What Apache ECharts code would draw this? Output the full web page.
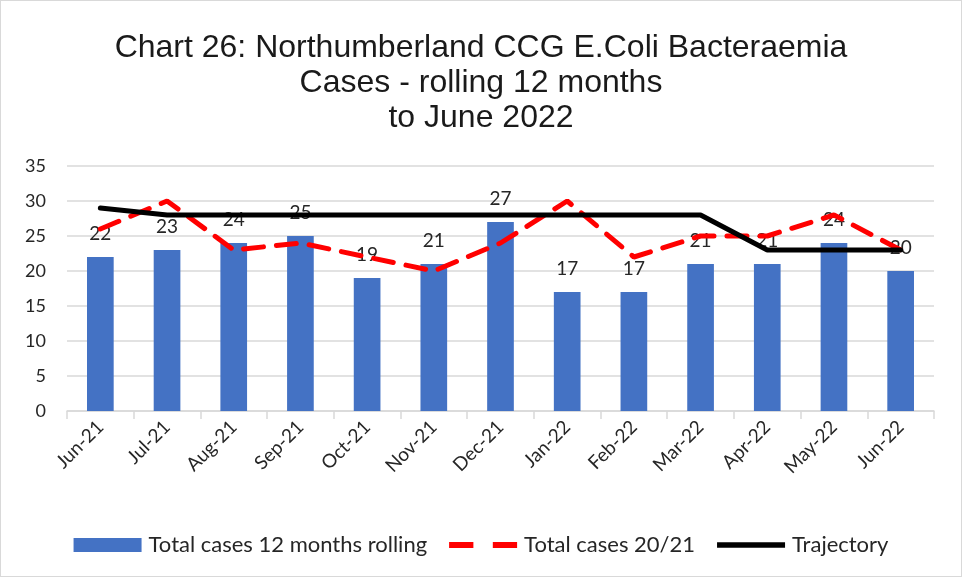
<!DOCTYPE html>
<html>
<head>
<meta charset="utf-8">
<script src="https://cdn.jsdelivr.net/npm/echarts@6/dist/echarts.min.js"></script>
<style>
  html, body { margin: 0; padding: 0; background: #fff; }
  #chart { width: 960px; height: 575px; border: 1px solid #d9d9d9; }
</style>
</head>
<body>
<div id="chart"></div>
<script>
// Monthly categories (rolling 12 months to each month end)
const months = ['Jun-21', 'Jul-21', 'Aug-21', 'Sep-21', 'Oct-21', 'Nov-21', 'Dec-21',
                'Jan-22', 'Feb-22', 'Mar-22', 'Apr-22', 'May-22', 'Jun-22'];
// Total cases, 12 months rolling
const rollingCases = [22, 23, 24, 25, 19, 21, 27, 17, 17, 21, 21, 24, 20];
// Total cases in the 2020/21 comparison period
const cases2021 = [26, 30, 23, 24, 22, 20, 24, 30, 22, 25, 25, 28, 23];
// Trajectory
const trajectory = [29, 28, 28, 28, 28, 28, 28, 28, 28, 28, 23, 23, 23];

const yTicks = { min: 0, max: 35, interval: 5 };

// Legend glyphs: two short dashes for the comparison line, a solid bar for the trajectory
const dashIcon = 'path://M0,0 H25 V6 H0 Z M45,0 H70 V6 H45 Z';
const solidIcon = 'path://M0,0 H73 V6 H0 Z';

const chart = echarts.init(document.getElementById('chart'));
chart.setOption({
  animation: false,
  backgroundColor: '#ffffff',
  title: {
    text: 'Chart 26: Northumberland CCG E.Coli Bacteraemia\nCases - rolling 12 months\nto June 2022',
    left: 'center',
    top: 25,
    textStyle: {
      fontFamily: 'Liberation Sans',
      fontSize: 32,
      fontWeight: 'normal',
      lineHeight: 35,
      color: '#1a1a1a'
    }
  },
  grid: { left: 66, right: 27, top: 165, bottom: 165, containLabel: false },
  legend: {
    top: 528,
    left: 'center',
    itemGap: 22,
    itemWidth: 68,
    itemHeight: 14,
    symbolKeepAspect: true,
    textStyle: { fontFamily: 'Lato', fontSize: 22, color: '#262626', padding: [0, 0, 0, 2] },
    data: [
      { name: 'Total cases 12 months rolling', icon: 'rect' },
      { name: 'Total cases 20/21', icon: dashIcon },
      { name: 'Trajectory', icon: solidIcon }
    ]
  },
  xAxis: {
    type: 'category',
    data: months,
    boundaryGap: true,
    axisLine: { lineStyle: { color: '#d9d9d9', width: 1.5 } },
    axisTick: { show: true, length: 8, lineStyle: { color: '#d9d9d9', width: 1.5 } },
    axisLabel: {
      rotate: 45,
      margin: 13,
      fontFamily: 'Lato',
      fontSize: 19,
      color: '#262626'
    }
  },
  yAxis: {
    type: 'value',
    min: yTicks.min,
    max: yTicks.max,
    interval: yTicks.interval,
    axisLine: { show: false },
    axisTick: { show: false },
    axisLabel: { margin: 21, fontFamily: 'Lato', fontSize: 18, color: '#262626' },
    splitLine: { lineStyle: { color: '#d9d9d9', width: 1.5 } }
  },
  series: [
    {
      name: 'Total cases 12 months rolling',
      type: 'bar',
      data: rollingCases,
      barWidth: '40%',
      itemStyle: { color: '#4472c4' },
      label: {
        show: true,
        position: 'top',
        distance: 14,
        fontFamily: 'Lato',
        fontSize: 19,
        color: '#262626'
      },
      z: 1
    },
    {
      name: 'Total cases 20/21',
      type: 'line',
      data: cases2021,
      symbol: 'none',
      lineStyle: { color: '#ff0000', width: 5, type: [20, 13], cap: 'round' },
      itemStyle: { color: '#ff0000' },
      z: 3
    },
    {
      name: 'Trajectory',
      type: 'line',
      data: trajectory,
      symbol: 'none',
      lineStyle: { color: '#000000', width: 5, cap: 'round' },
      itemStyle: { color: '#000000' },
      z: 4
    }
  ]
});
</script>
</body>
</html>
